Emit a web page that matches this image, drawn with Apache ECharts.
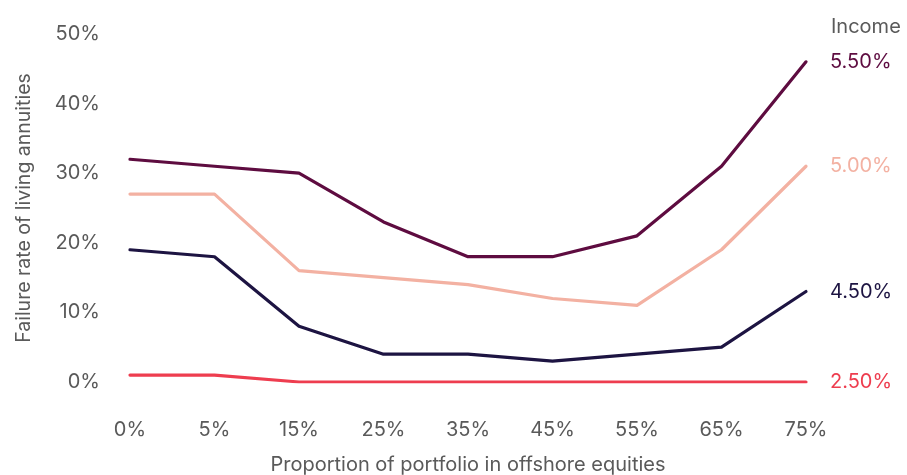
<!DOCTYPE html>
<html>
<head>
<meta charset="utf-8">
<script src="https://cdn.jsdelivr.net/npm/echarts@6/dist/echarts.min.js"></script>
<style>
  html, body { margin: 0; padding: 0; background: #fff; overflow: hidden; }
  #chart { width: 907px; height: 475px; }
</style>
</head>
<body>
<div id="chart"></div>
<script>
// Share of portfolio held in offshore equities
const categories = ['0%', '5%', '15%', '25%', '35%', '45%', '55%', '65%', '75%'];

// Failure rate (%) of living annuities for each income drawdown level
const income550 = [32, 31, 30, 23, 18, 18, 21, 31, 46];
const income500 = [27, 27, 16, 15, 14, 12, 11, 19, 31];
const income450 = [19, 18, 8, 4, 4, 3, 4, 5, 13];
const income250 = [1, 1, 0, 0, 0, 0, 0, 0, 0];

const yTicks = [0, 10, 20, 30, 40, 50];

const FONT = 'Inter';
const TEXT = '#5a5a5a';

function line(name, data, color) {
  return {
    name: name,
    type: 'line',
    data: data,
    symbol: 'none',
    lineStyle: { width: 3.2, color: color, cap: 'round', join: 'round' },
    itemStyle: { color: color },
    endLabel: {
      show: true,
      formatter: name,
      color: color,
      fontFamily: FONT,
      fontSize: 20,
      distance: 24
    },
    emphasis: { disabled: true }
  };
}

const chart = echarts.init(document.getElementById('chart'));
chart.setOption({
  animation: false,
  title: {
    text: 'Income',
    left: 826,
    top: 12,
    textStyle: { fontFamily: FONT, fontSize: 20, fontWeight: 'normal', color: TEXT }
  },
  grid: { left: 130, right: 101, top: 34, bottom: 93, outerBoundsMode: 'none' },
  xAxis: {
    type: 'category',
    data: categories,
    boundaryGap: false,
    name: 'Proportion of portfolio in offshore equities',
    nameLocation: 'middle',
    nameGap: 73,
    nameTextStyle: { fontFamily: FONT, fontSize: 20, color: TEXT },
    axisLine: { show: false },
    axisTick: { show: false },
    axisLabel: { margin: 38, fontFamily: FONT, fontSize: 20, color: TEXT }
  },
  yAxis: {
    type: 'value',
    min: yTicks[0],
    max: yTicks[yTicks.length - 1],
    interval: 10,
    name: 'Failure rate of living annuities',
    nameLocation: 'middle',
    nameGap: 96,
    nameTextStyle: { fontFamily: FONT, fontSize: 19.5, color: TEXT },
    splitLine: { show: false },
    axisLine: { show: false },
    axisTick: { show: false },
    axisLabel: {
      margin: 30,
      fontFamily: FONT,
      fontSize: 20,
      color: TEXT,
      formatter: v => v + '%'
    }
  },
  series: [
    line('5.50%', income550, '#5e0c40'),
    line('5.00%', income500, '#f3b1a2'),
    line('4.50%', income450, '#1d1442'),
    line('2.50%', income250, '#ee3d4f')
  ]
});
</script>
</body>
</html>
